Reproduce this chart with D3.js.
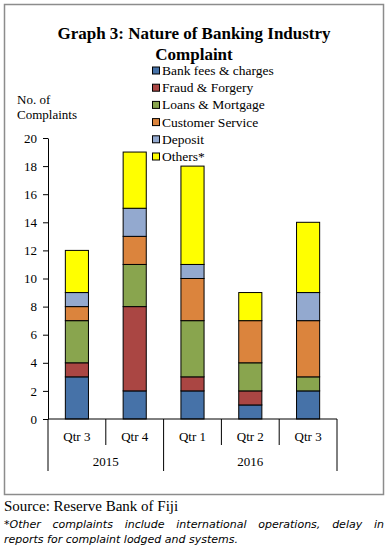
<!DOCTYPE html>
<html>
<head>
<meta charset="utf-8">
<script src="https://cdn.jsdelivr.net/npm/d3@7"></script>
<style>
  body { margin: 0; background: #fff; }
  svg text { font-family: "Liberation Serif", "DejaVu Serif", serif; fill: #000; }
</style>
</head>
<body>
<div id="chart"></div>
<script>
// data
const quarters = ["Qtr 3", "Qtr 4", "Qtr 1", "Qtr 2", "Qtr 3"];
const years = [{label: "2015", from: 0, to: 2}, {label: "2016", from: 2, to: 5}];
const seriesNames = ["Bank fees & charges", "Fraud & Forgery", "Loans & Mortgage",
                     "Customer Service", "Deposit", "Others*"];
const bankFees = [3, 2, 2, 1, 2];
const fraud    = [1, 6, 1, 1, 0];
const loans    = [3, 3, 4, 2, 1];
const customer = [1, 2, 3, 3, 4];
const deposit  = [1, 2, 1, 0, 2];
const others   = [3, 4, 7, 2, 5];
const yTicks = [0, 2, 4, 6, 8, 10, 12, 14, 16, 18, 20];
const colors = ["#4672a8", "#aa4643", "#89a54e", "#db843d", "#93a9cf", "#ffff00"];

const SERIF = "'Liberation Serif', 'DejaVu Serif', serif";
const W = 390, H = 552;
const svg = d3.select("#chart").append("svg")
    .attr("width", W).attr("height", H);

// outer frame
svg.append("rect")
    .attr("x", 4.5).attr("y", 4.5).attr("width", 379).attr("height", 490)
    .attr("fill", "none").attr("stroke", "#8c8c8c").attr("stroke-width", 1.5);

// title
svg.append("text").attr("x", 194).attr("y", 39).attr("text-anchor", "middle")
    .style("font-family", SERIF)
    .attr("font-size", 17).attr("font-weight", "bold")
    .text("Graph 3: Nature of Banking Industry");
svg.append("text").attr("x", 194).attr("y", 60).attr("text-anchor", "middle")
    .style("font-family", SERIF)
    .attr("font-size", 17).attr("font-weight", "bold")
    .text("Complaint");

// y axis title
svg.append("text").attr("x", 17).attr("y", 104).attr("font-size", 13)
    .style("font-family", SERIF).text("No. of");
svg.append("text").attr("x", 17).attr("y", 119).attr("font-size", 13)
    .style("font-family", SERIF).text("Complaints");

const x = d3.scaleBand()
    .domain(d3.range(quarters.length))
    .range([48, 337])
    .paddingInner(0.6).paddingOuter(0.3);
const y = d3.scaleLinear().domain([0, 20]).range([419, 138]);

const table = quarters.map((q, i) => ({
    i: i,
    s0: bankFees[i], s1: fraud[i], s2: loans[i], s3: customer[i], s4: deposit[i], s5: others[i]
}));
const stack = d3.stack().keys(["s0", "s1", "s2", "s3", "s4", "s5"])(table);

svg.append("g").selectAll("g")
    .data(stack)
    .join("g")
    .attr("fill", (d, k) => colors[k])
    .selectAll("rect")
    .data(d => d.filter(p => p[1] > p[0]))
    .join("rect")
    .attr("x", p => x(p.data.i))
    .attr("width", x.bandwidth())
    .attr("y", p => y(p[1]))
    .attr("height", p => y(p[0]) - y(p[1]))
    .attr("stroke", "#000").attr("stroke-width", 1);

// y axis
const yAxis = svg.append("g")
    .attr("transform", "translate(48,0)")
    .call(d3.axisLeft(y).tickValues(yTicks).tickSize(5).tickSizeOuter(0));
yAxis.attr("font-family", null);
yAxis.select(".domain").attr("stroke", "#000");
yAxis.selectAll("text").attr("font-size", 13)
    .style("font-family", SERIF).attr("x", -11);

// x axis with grouped categories
const step = x.step();
const x0 = 48;
const xa = svg.append("g").attr("stroke", "#000").attr("stroke-width", 1);
xa.append("line").attr("x1", x0).attr("x2", x0 + step * quarters.length)
    .attr("y1", y(0)).attr("y2", y(0));
d3.range(quarters.length + 1).forEach(i => {
    const isYearEdge = years.some(g => g.from === i || g.to === i);
    xa.append("line")
        .attr("x1", x0 + step * i).attr("x2", x0 + step * i)
        .attr("y1", y(0)).attr("y2", isYearEdge ? 471 : 445);
});
svg.append("g").selectAll("text")
    .data(quarters)
    .join("text")
    .attr("x", (d, i) => x(i) + x.bandwidth() / 2)
    .attr("y", 441).attr("text-anchor", "middle").attr("font-size", 13)
    .style("font-family", SERIF)
    .text(d => d);
svg.append("g").selectAll("text")
    .data(years)
    .join("text")
    .attr("x", g => x0 + step * (g.from + g.to) / 2)
    .attr("y", 466).attr("text-anchor", "middle").attr("font-size", 13)
    .style("font-family", SERIF)
    .text(g => g.label);

// legend
const legend = svg.append("g").selectAll("g")
    .data(seriesNames)
    .join("g")
    .attr("transform", (d, i) => `translate(152, ${70.5 + i * 17.2})`);
legend.append("rect")
    .attr("x", 0.5).attr("y", -3.5).attr("width", 7).attr("height", 7)
    .attr("fill", (d, i) => colors[i]).attr("stroke", "#000").attr("stroke-width", 1);
legend.append("text")
    .attr("x", 10).attr("y", 4.5).attr("font-size", 13.5)
    .style("font-family", SERIF)
    .text(d => d);

// source + note
svg.append("text").attr("x", 4).attr("y", 511).attr("font-size", 15)
    .style("font-family", SERIF)
    .text("Source: Reserve Bank of Fiji");

function justifiedLine(words, yPos, left, right, justify) {
    const g = svg.append("g");
    const nodes = words.map(w => g.append("text")
        .attr("y", yPos)
        .style("font-family", "'DejaVu Sans', Verdana, sans-serif")
        .style("font-style", "italic").style("font-size", "11px")
        .text(w));
    const widths = nodes.map(n => n.node().getComputedTextLength());
    const total = d3.sum(widths);
    const gap = justify ? (right - left - total) / (words.length - 1) : 3.5;
    let cx = left;
    nodes.forEach((n, i) => { n.attr("x", cx); cx += widths[i] + gap; });
}
justifiedLine("*Other complaints include international operations, delay in".split(" "), 528, 4, 384, true);
justifiedLine("reports for complaint lodged and systems.".split(" "), 543, 4, 384, false);
</script>
</body>
</html>
